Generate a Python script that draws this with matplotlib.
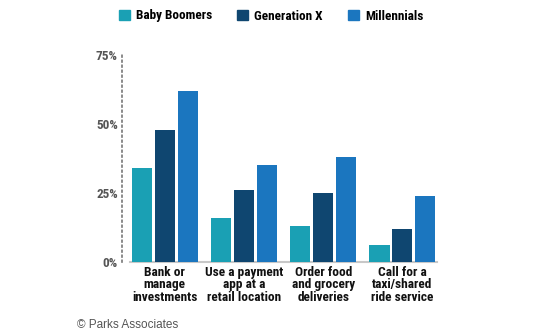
import numpy as np
import matplotlib.pyplot as plt
from matplotlib.patches import Rectangle

categories = ["Bank or\nmanage\ninvestments",
              "Use a payment\napp at a\nretail location",
              "Order food\nand grocery\ndeliveries",
              "Call for a\ntaxi/shared\nride service"]
series = ["Baby Boomers", "Generation X", "Millennials"]
baby_boomers = [34, 16, 13, 6]
generation_x = [48, 26, 25, 12]
millennials = [62, 35, 38, 24]
yticks = [0, 25, 50, 75]
ytick_labels = ["0%", "25%", "50%", "75%"]

colors = ["#1aa0b4", "#0f4670", "#1b76bf"]
narrow = ["Roboto Condensed", "Liberation Sans", "DejaVu Sans"]

fig = plt.figure(figsize=(5.44, 3.33), dpi=100)
W, H = 544, 333
ax = fig.add_axes([122 / W, 1 - 262 / H, 320 / W, 207 / H])

x = np.arange(len(categories))
width = 0.255
step = 0.29
values = [baby_boomers, generation_x, millennials]
for i, (name, vals) in enumerate(zip(series, values)):
    ax.bar(x + (i - 1) * step, vals, width, color=colors[i], label=name,
           zorder=2)

ax.set_xlim(-0.54, 3.5)
ax.set_ylim(0, 75)

# dotted y axis line and grey baseline
ax.spines[["top", "right", "bottom"]].set_visible(False)
ax.spines["left"].set_linestyle((0, (1, 2)))
ax.spines["left"].set_color("#777777")
ax.spines["left"].set_linewidth(1.2)
ax.plot([x[0] - step - width / 2 - 0.02, x[-1] + step + width / 2 + 0.02],
        [0, 0], color="#c8c8c8", lw=1.5, zorder=1, clip_on=False)

ax.set_yticks(yticks)
ax.set_yticklabels(ytick_labels, family=narrow, fontsize=9.5, color="#555555",
                   fontweight="bold")
ax.tick_params(axis="y", length=0, pad=3)

ax.set_xticks(x)
ax.set_xticklabels(categories, family=narrow, fontsize=9.6,
                   fontweight="bold", color="#111111", linespacing=0.92)
ax.tick_params(axis="x", length=0, pad=3)

# legend across the top
handles = [Rectangle((0, 0), 1, 1, color=c) for c in colors]
fig.legend(handles, series, loc="center", bbox_to_anchor=(271 / W, 1 - 16 / H),
           ncol=3, frameon=False, handlelength=0.85, handleheight=0.85,
           handletextpad=0.45, columnspacing=1.9,
           prop={"family": narrow, "size": 9.5, "weight": "bold"})

fig.text(77 / W, 1 - 325 / H, "\u00a9 Parks Associates",
         family=["Liberation Sans", "DejaVu Sans"],
         fontsize=8.5, color="#555555", va="center", ha="left")

fig.savefig("out.png", dpi=100)
